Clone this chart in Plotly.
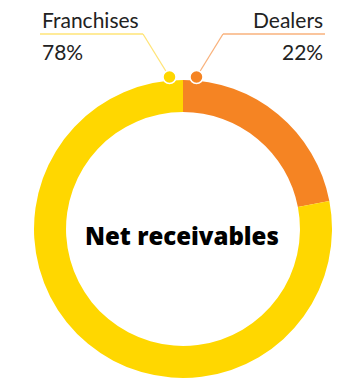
import plotly.graph_objects as go

categories = ["Dealers", "Franchises"]
values = [22, 78]
colors = ["#F58423", "#FFD700"]
line_colors = ["#F9B27C", "#FFE477"]
center_title = "Net receivables"

W, H = 338, 379
CX, CY, R = 183, 229, 149

def px(x):
    return x / W

def py(y):
    return 1 - y / H

fig = go.Figure()
fig.add_trace(go.Pie(
    labels=categories, values=values, hole=0.785, sort=False,
    direction="clockwise", rotation=0,
    marker=dict(colors=colors, line=dict(width=0)),
    textinfo="none", hoverinfo="label+percent", showlegend=False,
    domain=dict(x=[px(CX - R), px(CX + R)], y=[py(CY + R), py(CY - R)]),
))

shapes = []
annotations = []
font_fam = "Lato, 'Open Sans', sans-serif"
dot_y = CY - R - 3
label_y = 34
for i, (cat, val) in enumerate(zip(categories, values)):
    side = 1 if i == 0 else -1  # Dealers right, Franchises left
    dot_x = CX + side * 13.5
    elbow_x = CX + side * 40
    end_x = 325 if side == 1 else 40
    lc = line_colors[i]
    shapes.append(dict(type="line", xref="paper", yref="paper",
                       x0=px(dot_x), y0=py(dot_y), x1=px(elbow_x), y1=py(label_y),
                       line=dict(color=lc, width=1.3)))
    shapes.append(dict(type="line", xref="paper", yref="paper",
                       x0=px(elbow_x), y0=py(label_y), x1=px(end_x), y1=py(label_y),
                       line=dict(color=lc, width=1.3)))
    shapes.append(dict(type="circle", xref="paper", yref="paper",
                       xsizemode="pixel", ysizemode="pixel",
                       xanchor=px(dot_x), yanchor=py(dot_y),
                       x0=-6.5, x1=6.5, y0=-6.5, y1=6.5,
                       fillcolor=colors[i], line=dict(color="white", width=1.5)))
    anchor = "right" if side == 1 else "left"
    annotations.append(dict(text=cat, x=px(end_x), y=py(20), xref="paper", yref="paper",
                            xanchor=anchor, yanchor="middle", showarrow=False,
                            font=dict(family=font_fam, size=21, color="#222222")))
    annotations.append(dict(text=f"{val}%", x=px(end_x), y=py(51), xref="paper", yref="paper",
                            xanchor=anchor, yanchor="middle", showarrow=False,
                            font=dict(family=font_fam, size=21, color="#222222")))

annotations.append(dict(text=center_title, x=px(CX - 1), y=py(CY + 6),
                        xref="paper", yref="paper", xanchor="center", yanchor="middle",
                        showarrow=False,
                        font=dict(family="'Open Sans', sans-serif", size=24, weight=800,
                                  color="#000000")))

fig.update_layout(width=W, height=H, margin=dict(l=0, r=0, t=0, b=0),
                  paper_bgcolor="white", plot_bgcolor="white",
                  shapes=shapes, annotations=annotations)

fig.write_html("out.html")
